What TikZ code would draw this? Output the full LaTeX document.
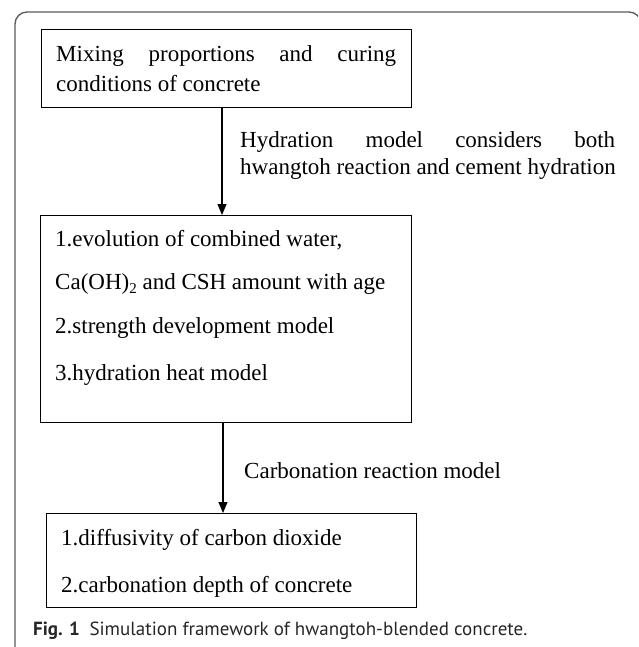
\documentclass[tikz,border=0pt]{standalone}
\usepackage{fontspec}
\setmainfont{Liberation Serif}
\newfontfamily\capfont{PT Sans}
\usetikzlibrary{arrows.meta}
\newcommand{\lowtwo}{\raisebox{-0.45ex}{\fontsize{15}{15}\selectfont 2}}
\begin{document}
\begin{tikzpicture}[x=1pt,y=-1pt,
  boxnode/.style={draw=black, line width=1.1pt, anchor=north west, inner sep=0pt},
  txt/.style={anchor=base west, inner sep=0pt, font=\fontsize{23}{27}\selectfont},
  flow/.style={line width=1.1pt, -{Triangle[length=11pt,width=9pt]}},
  frame/.style={draw=black!65, line width=1.3pt, rounded corners=12pt}]
\useasboundingbox (0,0) rectangle (638,647);
\clip (0,0) rectangle (638,647);
\draw[frame] (15,700) -- (15,12) -- (641,12) -- (641,700);
% boxes
\node[boxnode, minimum width=370pt, minimum height=78pt] (b1) at (41,29) {};
\node[boxnode, minimum width=371pt, minimum height=207pt] (b2) at (40,215) {};
\node[boxnode, minimum width=370pt, minimum height=94pt] (b3) at (46,513) {};
% connectors
\coordinate (a1) at (222,0);
\coordinate (a2) at (223,0);
\draw[flow] (b1.south -| a1) -- (b2.north -| a1);
\draw[flow] (b2.south -| a2) -- (b3.north -| a2);
% box texts
\node[txt] (t11) at (56,62) {\makebox[340pt][s]{Mixing proportions and curing}};
\node[txt] (t12) at (56,92) {conditions of concrete};
\node[txt] (t21) at (55,246) {1.evolution of combined water,};
\node[txt] (t22) at (55,289) {Ca(OH)\lowtwo\ and CSH amount with age};
\node[txt] (t23) at (55,333) {2.strength development model};
\node[txt] (t24) at (55,380) {3.hydration heat model};
\node[txt] (t31) at (61,545) {1.diffusivity of carbon dioxide};
\node[txt] (t32) at (61,592) {2.carbonation depth of concrete};
% connector labels
\node[txt] (l11) at (240,148) {\makebox[375pt][s]{Hydration model considers both}};
\node[txt] (l12) at (240,175) {hwangtoh reaction and cement hydration};
\node[txt] (l2) at (244,478) {Carbonation reaction model};
% caption
\node[anchor=base west, inner sep=0pt, text=black!85, font=\capfont\fontsize{19}{22}\selectfont] (cap) at (33,635) {\textbf{Fig. 1}\hspace{0.5em}Simulation framework of hwangtoh-blended concrete.};
\end{tikzpicture}
\end{document}
